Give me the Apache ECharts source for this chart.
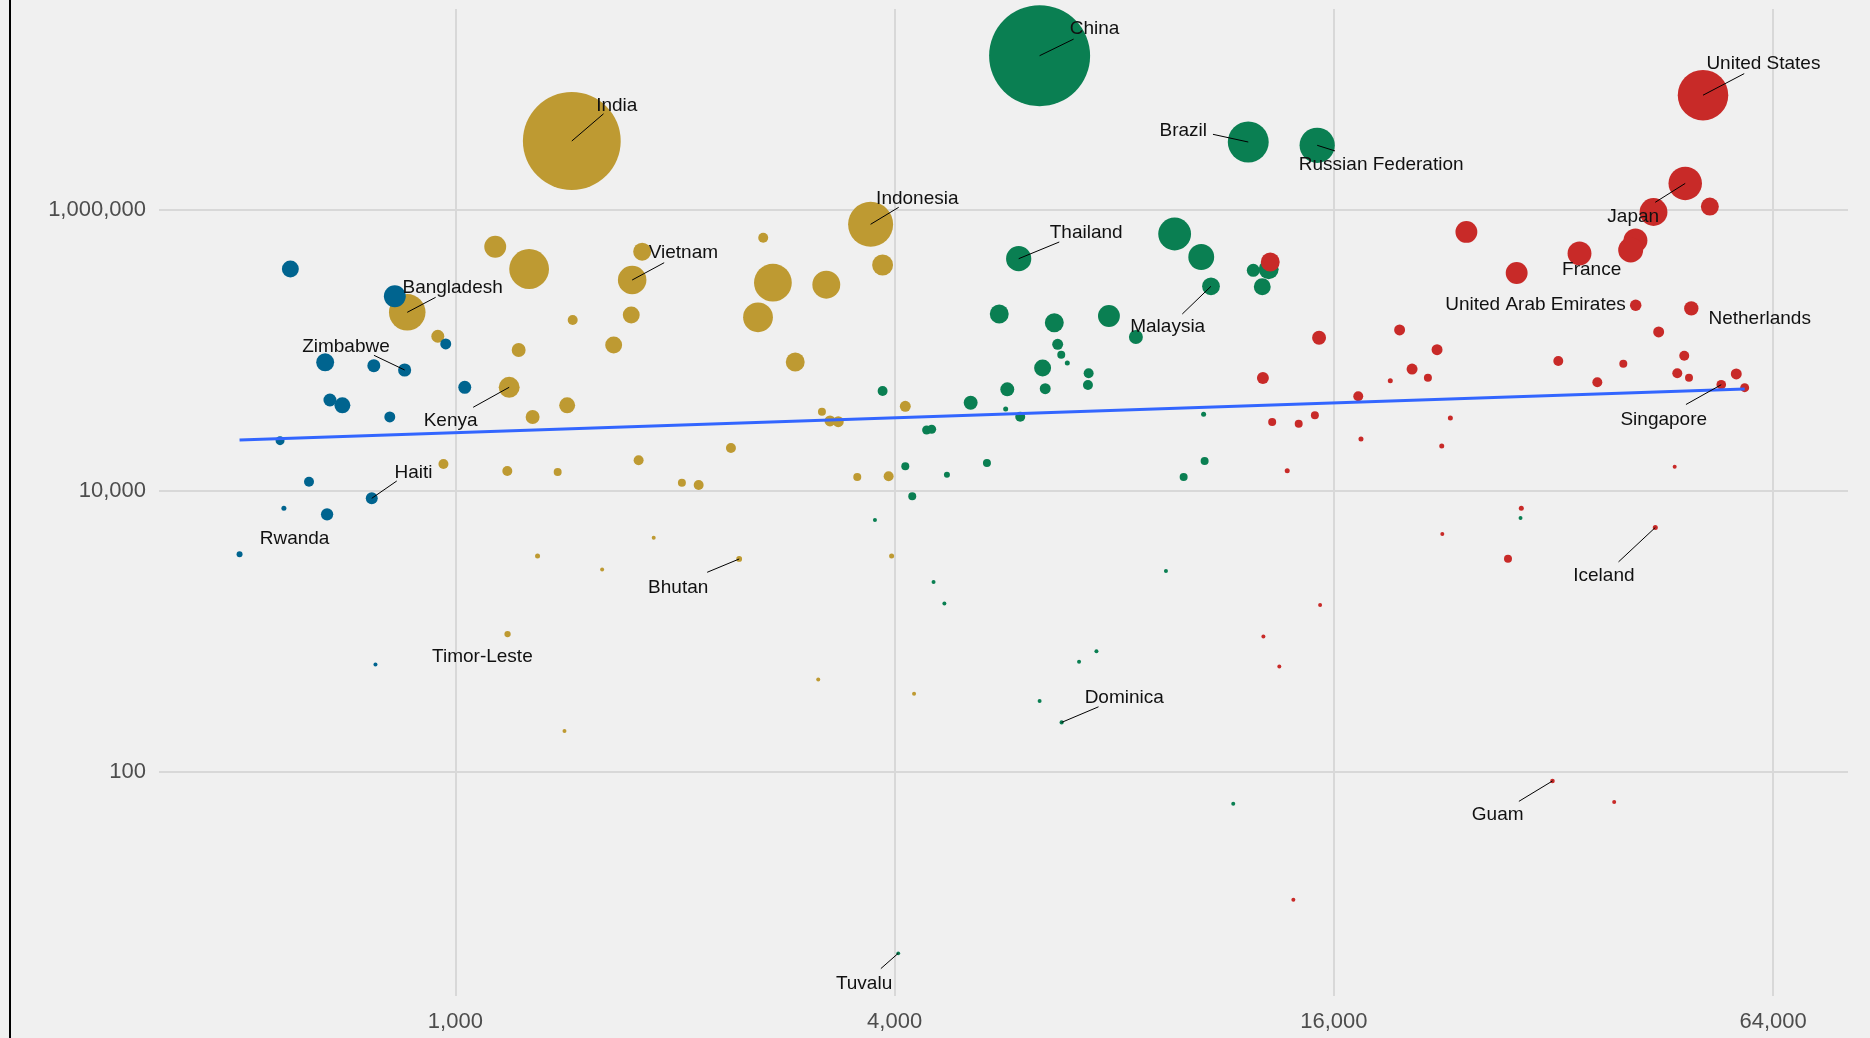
<!DOCTYPE html>
<html>
<head>
<meta charset="utf-8">
<title>Emissions, income and population</title>
<script src="https://cdn.jsdelivr.net/npm/echarts@6/dist/echarts.min.js"></script>
<style>
  html, body { margin: 0; padding: 0; background: #f0f0f0; }
  #chart { width: 1870px; height: 1038px; }
</style>
</head>
<body>
<div id="chart"></div>
<script>
// Rows: [GDP per capita (US$), total emissions, population (millions), country]
const lowIncome = [
  [594, 379300, 25.6, ''],
  [826, 242700, 48.0, ''],
  [970, 111100, 7.9, ''],
  [663, 82300, 29.7, ''],
  [773, 77850, 12.7, ''],
  [852, 72550, 13.1, 'Zimbabwe'],
  [1030, 54650, 12.7, ''],
  [673, 44390, 12.7, ''],
  [700, 40690, 22.0, ''],
  [813, 33600, 7.9, ''],
  [575, 22800, 4.25, ''],
  [630, 11650, 5.94, ''],
  [768, 8873, 10.2, 'Haiti'],
  [582, 7534, 0.32, ''],
  [667, 6830, 11.0, 'Rwanda'],
  [506, 3546, 0.88, ''],
  [777, 583, 0.035, '']
];

const lowerMiddleIncome = [
  [859, 186600, 155, 'Bangladesh'],
  [946, 126000, 12.7, ''],
  [1134, 546600, 48.0, ''],
  [1262, 379300, 187, ''],
  [1444, 3085000, 1263, 'India'],
  [1448, 164500, 5.94, ''],
  [1221, 100650, 15.5, ''],
  [1185, 54650, 43.0, 'Kenya'],
  [1423, 40690, 22.0, ''],
  [1276, 33600, 15.5, ''],
  [963, 15560, 5.94, ''],
  [1178, 13880, 5.94, ''],
  [1381, 13650, 2.85, ''],
  [1296, 3449, 0.32, ''],
  [1179, 960, 1.13, 'Timor-Leste'],
  [1411, 196, 0.035, ''],
  [1747, 316700, 89, 'Vietnam'],
  [1803, 503500, 29.7, ''],
  [1742, 178600, 25.6, ''],
  [1648, 109200, 25.6, ''],
  [1783, 16530, 5.94, ''],
  [2044, 11460, 2.85, ''],
  [2155, 11030, 5.94, ''],
  [1870, 4655, 0.035, ''],
  [1589, 2765, 0.035, ''],
  [2449, 3284, 0.73, 'Bhutan'],
  [2642, 633300, 5.94, ''],
  [3708, 788600, 245, 'Indonesia'],
  [3851, 405000, 43.0, ''],
  [2724, 303000, 167, ''],
  [3224, 293300, 84.4, ''],
  [2599, 171960, 98.5, ''],
  [2923, 82700, 33.8, ''],
  [3180, 36640, 2.85, ''],
  [3262, 31470, 7.9, ''],
  [3348, 31110, 7.9, ''],
  [4137, 40030, 7.9, ''],
  [2386, 20220, 5.94, ''],
  [3555, 12580, 2.85, ''],
  [3925, 12730, 5.94, ''],
  [3962, 3449, 0.32, ''],
  [3143, 456, 0.035, ''],
  [4253, 361, 0.035, '']
];

const upperMiddleIncome = [
  [6321, 12475000, 1350, 'China'],
  [12212, 3035000, 199, 'Brazil'],
  [15180, 2876000, 143, 'Russian Federation'],
  [5917, 449000, 67, 'Thailand'],
  [9680, 672800, 122, ''],
  [10528, 461700, 71, ''],
  [12407, 371300, 12.7, ''],
  [13024, 377400, 38.3, ''],
  [10857, 285700, 29, 'Malaysia'],
  [12764, 283900, 25.6, ''],
  [5565, 181500, 33.8, ''],
  [6621, 157400, 33.8, ''],
  [7867, 175700, 48.0, ''],
  [8566, 124600, 15.5, ''],
  [6692, 110500, 7.9, ''],
  [6768, 93200, 2.85, ''],
  [6898, 81370, 0.32, ''],
  [6381, 74960, 25.6, ''],
  [7379, 68740, 5.94, ''],
  [5708, 52880, 15.5, ''],
  [6434, 53400, 7.9, ''],
  [7363, 56750, 5.94, ''],
  [5085, 42460, 15.5, ''],
  [5679, 38310, 0.32, ''],
  [5946, 33770, 5.94, ''],
  [10607, 35120, 0.32, ''],
  [5353, 15820, 2.85, ''],
  [10641, 16340, 2.85, ''],
  [9959, 12580, 2.85, ''],
  [9418, 2698, 0.035, ''],
  [3851, 51430, 5.94, ''],
  [4425, 27160, 4.25, ''],
  [4496, 27470, 4.25, ''],
  [4137, 14990, 2.85, ''],
  [4229, 9170, 2.85, ''],
  [4718, 13060, 0.88, ''],
  [3759, 6219, 0.035, ''],
  [4523, 2250, 0.035, ''],
  [4680, 1584, 0.035, ''],
  [7159, 609, 0.035, ''],
  [7563, 726, 0.035, ''],
  [6321, 321, 0.035, ''],
  [6776, 226, 0.071, 'Dominica'],
  [11647, 59.6, 0.035, ''],
  [4046, 5.15, 0.0098, 'Tuvalu'],
  [28840, 6418, 0.035, '']
];

const highIncome = [
  [51300, 6533000, 314, 'United States'],
  [48500, 1541000, 127.6, 'Japan'],
  [43880, 964700, 84.4, ''],
  [52420, 1054000, 29.7, ''],
  [24310, 696200, 48.0, ''],
  [41450, 604900, 59.0, ''],
  [40830, 517600, 65.6, 'France'],
  [34740, 488900, 59.0, ''],
  [28490, 355200, 48.0, ''],
  [13090, 425300, 33.8, ''],
  [41480, 209400, 9.1, 'United Arab Emirates'],
  [49440, 199000, 16.75, 'Netherlands'],
  [19690, 139700, 7.9, ''],
  [44600, 135200, 7.9, ''],
  [22160, 101200, 7.9, ''],
  [20480, 73740, 7.9, ''],
  [21530, 63940, 2.85, ''],
  [19120, 60870, 0.32, ''],
  [32490, 84070, 5.94, ''],
  [39890, 80430, 2.85, ''],
  [48350, 91680, 5.94, ''],
  [47300, 68740, 5.94, ''],
  [49080, 63940, 2.85, ''],
  [56980, 67970, 7.9, ''],
  [54340, 57020, 5.3, 'Singapore'],
  [58510, 54290, 4.25, ''],
  [36750, 59320, 5.94, ''],
  [15270, 123100, 15.5, ''],
  [12790, 63630, 10.2, ''],
  [17280, 47150, 5.94, ''],
  [13170, 30970, 2.85, ''],
  [14320, 30110, 2.85, ''],
  [15070, 34540, 2.85, ''],
  [13810, 13950, 0.32, ''],
  [23110, 33050, 0.32, ''],
  [17430, 23430, 0.32, ''],
  [22490, 20890, 0.32, ''],
  [46910, 14890, 0.035, ''],
  [28910, 7534, 0.32, ''],
  [22530, 4946, 0.035, ''],
  [27720, 3295, 2.85, ''],
  [44130, 5501, 0.32, 'Iceland'],
  [15320, 1546, 0.035, ''],
  [12810, 923, 0.035, ''],
  [13470, 565, 0.035, ''],
  [14080, 12.4, 0.035, ''],
  [31900, 86.6, 0.16, 'Guam'],
  [38760, 61.4, 0.035, '']
];

// Fitted log-log trend, evaluated at the smallest and largest GDP per capita
const trendGdp = [506, 58510];
const trendEmissions = [23050, 53150];

// Axis tick values
const xTicks = [1000, 4000, 16000, 64000];
const yTicks = [100, 10000, 1000000];

// Label placement for the named countries: text centre and leader-line end,
// both as pixel offsets from the country's point.
const labelPlacement = {
  'India':                { text: [45, -35.5], line: [31.7, -27.2] },
  'China':                { text: [55, -26.5], line: [34, -16.6] },
  'Brazil':               { text: [-65, -11.7], line: [-35.3, -7.7] },
  'Russian Federation':   { text: [64, 19.5], line: [17.8, 5.6] },
  'United States':        { text: [60.4, -31.2], line: [41.2, -21.6] },
  'Japan':                { text: [-52, 33], line: [-30, 18.9] },
  'France':               { text: [-39, 20], line: null },
  'United Arab Emirates': { text: [-100.2, -1], line: null },
  'Netherlands':          { text: [68.4, 10.5], line: null },
  'Singapore':            { text: [-57.5, 35.3], line: [-35.3, 19.8] },
  'Malaysia':             { text: [-43.3, 40.7], line: [-28.7, 27.7] },
  'Thailand':             { text: [67.5, -26], line: [40.6, -16.7] },
  'Indonesia':            { text: [46.7, -26], line: [28.1, -17] },
  'Vietnam':              { text: [51.2, -27.3], line: [32, -17.3] },
  'Bangladesh':           { text: [45.4, -24.6], line: [28.4, -15] },
  'Zimbabwe':             { text: [-58.7, -23.3], line: [-30.7, -14.7] },
  'Kenya':                { text: [-58.6, 33.7], line: [-36, 20] },
  'Haiti':                { text: [41.8, -26], line: [25, -17.3] },
  'Rwanda':               { text: [-32.5, 24], line: null },
  'Bhutan':               { text: [-61, 28.3], line: [-32, 13.3] },
  'Timor-Leste':          { text: [-25.2, 22.8], line: null },
  'Dominica':             { text: [62.6, -24.5], line: [36.9, -15.6] },
  'Tuvalu':               { text: [-34.2, 30.3], line: [-17.4, 15.3] },
  'Iceland':              { text: [-51.4, 48], line: [-36.8, 34.4] },
  'Guam':                 { text: [-54.8, 33.5], line: [-33.6, 20.4] }
};

const FONT = "'Liberation Sans', Arial, sans-serif";
const groups = [
  { rows: lowerMiddleIncome, color: '#BE9A32' },
  { rows: upperMiddleIncome, color: '#0A7F52' },
  { rows: lowIncome,         color: '#00648F' },
  { rows: highIncome,        color: '#C82A28' }
];

const allRows = lowIncome.concat(lowerMiddleIncome, upperMiddleIncome, highIncome);
const popMax = Math.max(...allRows.map(r => r[2]));
// Bubble area grows with population
function bubbleSize(pop) {
  return 3.5 + 97.5 * Math.sqrt(pop / popMax);
}

const labelled = allRows.filter(r => r[3] && labelPlacement[r[3]]);
const fmt = v => Math.round(v).toLocaleString('en-US');

const chart = echarts.init(document.getElementById('chart'), null, { renderer: 'canvas' });

const series = [];

// Gridlines and tick labels at the chosen tick values
series.push({
  type: 'scatter',
  data: [],
  silent: true,
  z: 1,
  markLine: {
    silent: true,
    z: 1,
    animation: false,
    symbol: ['none', 'none'],
    lineStyle: { color: '#d8d8d8', width: 2, type: 'solid' },
    label: {
      show: true,
      position: 'start',
      color: '#4d4d4d',
      fontSize: 22,
      fontFamily: FONT,
      formatter: p => fmt(p.value)
    },
    data: xTicks.map(v => ({ xAxis: v, label: { distance: 15 } }))
      .concat(yTicks.map(v => ({ yAxis: v, label: { distance: 13 } })))
  }
});

groups.forEach(g => {
  series.push({
    type: 'scatter',
    z: 2,
    animation: false,
    data: g.rows.map(r => [r[0], r[1], r[2]]),
    symbol: 'circle',
    symbolSize: v => bubbleSize(v[2]),
    itemStyle: { color: g.color, opacity: 1 },
    emphasis: { disabled: true }
  });
});

series.push({
  type: 'line',
  z: 3,
  animation: false,
  silent: true,
  data: trendGdp.map((x, i) => [x, trendEmissions[i]]),
  showSymbol: false,
  lineStyle: { color: '#3366FF', width: 3 }
});

series.push({
  type: 'custom',
  coordinateSystem: 'cartesian2d',
  z: 4,
  silent: true,
  animation: false,
  data: labelled.map(r => [r[0], r[1]]),
  renderItem(params, api) {
    const name = labelled[params.dataIndex][3];
    const place = labelPlacement[name];
    const p = api.coord([api.value(0), api.value(1)]);
    const children = [];
    if (place.line) {
      children.push({
        type: 'line',
        shape: { x1: p[0], y1: p[1], x2: p[0] + place.line[0], y2: p[1] + place.line[1] },
        style: { stroke: '#000', lineWidth: 1 }
      });
    }
    children.push({
      type: 'text',
      x: p[0] + place.text[0],
      y: p[1] + place.text[1],
      style: {
        text: name,
        fill: '#111',
        font: '19px ' + FONT,
        align: 'center',
        verticalAlign: 'middle'
      }
    });
    return { type: 'group', children };
  }
});

chart.setOption({
  backgroundColor: '#f0f0f0',
  animation: false,
  grid: { left: 159, top: 9, right: 22, bottom: 42, containLabel: false },
  xAxis: {
    type: 'log',
    logBase: 10,
    min: 392.4,
    max: 81070,
    axisLine: { show: false },
    axisTick: { show: false },
    axisLabel: { show: false },
    splitLine: { show: false }
  },
  yAxis: {
    type: 'log',
    logBase: 10,
    min: 2.559,
    max: 26810000,
    axisLine: { show: false },
    axisTick: { show: false },
    axisLabel: { show: false },
    splitLine: { show: false }
  },
  graphic: [{
    type: 'rect',
    left: 9,
    top: 0,
    shape: { width: 2, height: 1038 },
    style: { fill: '#000' },
    silent: true
  }],
  series
});
</script>
</body>
</html>
